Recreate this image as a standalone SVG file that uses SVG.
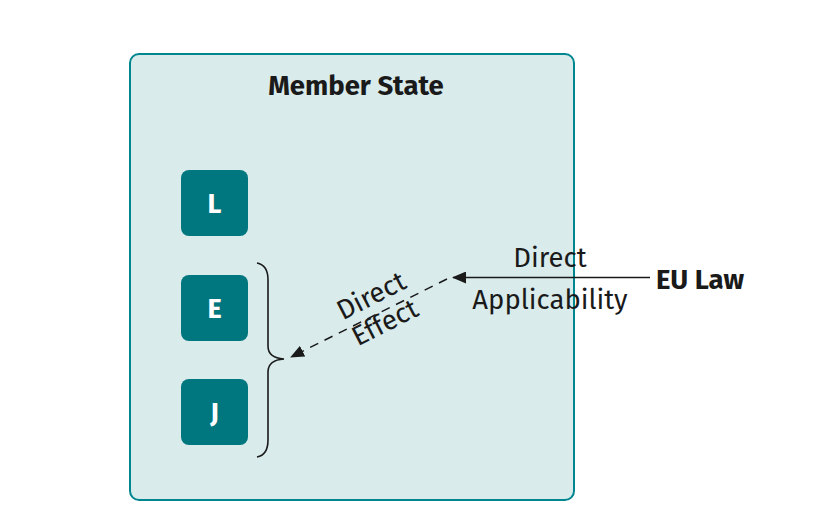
<svg xmlns="http://www.w3.org/2000/svg" width="816" height="530" viewBox="0 0 816 530">
<style>
.t{font-family:"Fira Sans","Open Sans","Noto Sans","Liberation Sans",sans-serif;fill:#1a1a1a;font-size:27.5px}
.b{font-weight:bold}
.n rect{fill:#00777f}
.n text{font-family:"Fira Sans","Open Sans","Noto Sans",sans-serif;font-weight:bold;font-size:27px;fill:#fff;text-anchor:middle}
</style>
<defs>
<marker id="ah" markerWidth="14" markerHeight="12" refX="13" refY="6" orient="auto" markerUnits="userSpaceOnUse">
<path d="M0,0 L14,6 L0,12 Z" fill="#1a1a1a"/>
</marker>
</defs>
<g id="member-state">
<rect x="130" y="54" width="444" height="446" rx="9" fill="#d9ebeb" stroke="#00868f" stroke-width="2"/>
<text class="t b" x="356" y="95" text-anchor="middle">Member State</text>
</g>
<g id="L" class="n"><rect x="181" y="170" width="67" height="66" rx="8"/><text x="214.5" y="213">L</text></g>
<g id="E" class="n"><rect x="181" y="275" width="67" height="66" rx="8"/><text x="214.5" y="318">E</text></g>
<g id="J" class="n"><rect x="181" y="379" width="67" height="66" rx="8"/><text x="214.5" y="422">J</text></g>
<g id="eu-law"><text class="t b" x="700" y="289" text-anchor="middle">EU Law</text></g>
<g id="connectors">
<path d="M257,263 Q268,265 268,280 L268,346 Q268,358 284,359 Q268,360 268,372 L268,440 Q268,455 257,457" fill="none" stroke="#1a1a1a" stroke-width="1.6"/>
<line x1="650" y1="277.5" x2="453" y2="277.5" stroke="#1a1a1a" stroke-width="1.5" marker-end="url(#ah)"/>
<line x1="447" y1="279" x2="291" y2="357" stroke="#1a1a1a" stroke-width="1.5" stroke-dasharray="9,7" marker-end="url(#ah)"/>
<text class="t" x="550" y="267" text-anchor="middle">Direct</text>
<text class="t" x="550" y="309" text-anchor="middle">Applicability</text>
<g transform="translate(379,311) rotate(-27)">
<text class="t" x="0" y="-8" text-anchor="middle">Direct</text>
<text class="t" x="0" y="22" text-anchor="middle">Effect</text>
</g>
</g>
</svg>
